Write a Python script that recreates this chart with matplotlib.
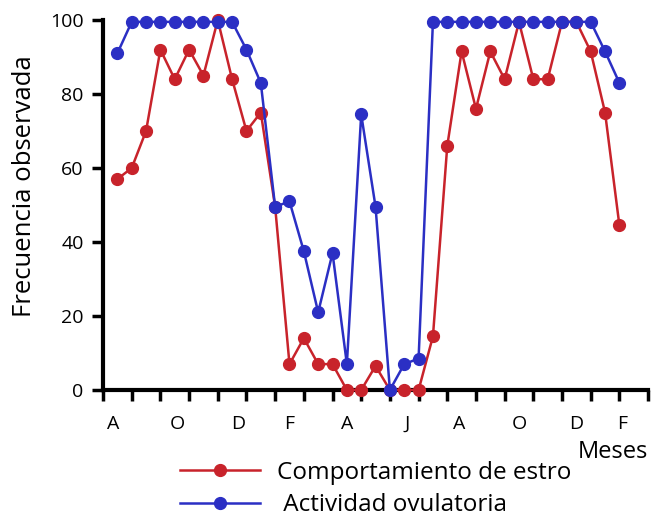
import matplotlib
matplotlib.use("Agg")
from matplotlib import pyplot as plt

# semi-monthly samples, x in months from the first tick
muestras = [0.5 * k for k in range(1, 37)]
estro = [57, 60, 70, 92, 84, 92, 85, 100, 84, 70, 75, 49.5,
         7, 14, 7, 7, 0, 0, 6.5, 0, 0, 0, 14.5, 66,
         91.5, 76, 91.5, 84, 99.5, 84, 84, 99.5, 99.5, 91.5, 75, 44.5]
ovulatoria = [91, 99.5, 99.5, 99.5, 99.5, 99.5, 99.5, 99.5, 99.5, 92, 83, 49.5,
              51, 37.5, 21, 37, 7, 74.5, 49.5, 0, 7, 8.5, 99.5, 99.5,
              99.5, 99.5, 99.5, 99.5, 99.5, 99.5, 99.5, 99.5, 99.5, 99.5, 91.5, 83]
meses = ['A', 'O', 'D', 'F', 'A', 'J', 'A', 'O', 'D', 'F']
pos_meses = [0.35, 2.6, 4.7, 6.5, 8.5, 10.6, 12.4, 14.5, 16.5, 18.1]

plt.rcParams['font.family'] = ['Open Sans', 'DejaVu Sans']

fig = plt.figure(figsize=(6.52, 5.2), dpi=100)
ax = fig.add_axes([0.158, 0.25, 0.836, 0.7115])

rojo = '#c8232b'
azul = '#2b2fc4'
ax.plot(muestras, estro, color=rojo, lw=1.8, marker='o', ms=8.5,
        clip_on=False, zorder=3, label='Comportamiento de estro')
ax.plot(muestras, ovulatoria, color=azul, lw=1.8, marker='o', ms=8.5,
        clip_on=False, zorder=4, label=' Actividad ovulatoria')

ax.set_xlim(0, 19)
ax.set_ylim(0, 100)
ax.set_xticks(range(20))
ax.set_xticklabels([])
ax.set_xticks(pos_meses, minor=True)
ax.set_xticklabels(meses, minor=True, fontsize=14)
ax.tick_params(axis='x', which='major', length=8, width=2.5, direction='out')
ax.tick_params(axis='x', which='minor', length=0, pad=18)
ax.set_yticks([0, 20, 40, 60, 80, 100])
ax.tick_params(axis='y', length=8, width=2.5, labelsize=14, pad=6)

for s in ['top', 'right']:
    ax.spines[s].set_visible(False)
for s in ['left', 'bottom']:
    ax.spines[s].set_linewidth(3)

ax.set_ylabel('Frecuencia observada', fontsize=18.5)
ax.yaxis.set_label_coords(-0.122, 0.55)
ax.text(1.0, -0.168, 'Meses', transform=ax.transAxes, ha='right', va='center',
        fontsize=17)

fig.legend(loc='upper left', bbox_to_anchor=(0.276, 0.114), frameon=False,
           fontsize=17.5, handlelength=3.3, handletextpad=0.7, labelspacing=0.35,
           borderaxespad=0, borderpad=0)

fig.savefig('out.png', dpi=100)
